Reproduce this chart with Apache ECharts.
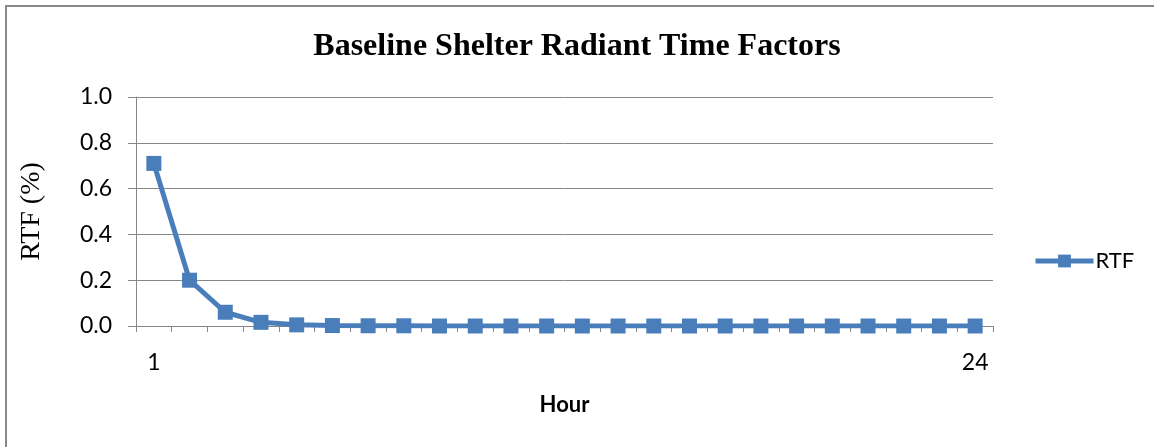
<!DOCTYPE html>
<html>
<head>
<meta charset="utf-8">
<script src="https://cdn.jsdelivr.net/npm/echarts@6/dist/echarts.min.js"></script>
<style>
  html, body { margin: 0; padding: 0; background: #fff; }
  #chart { width: 1154px; height: 447px; }
</style>
</head>
<body>
<div id="chart"></div>
<script>
// hours 1..24
const hours = ['1', '2', '3', '4', '5', '6', '7', '8', '9', '10', '11', '12',
  '13', '14', '15', '16', '17', '18', '19', '20', '21', '22', '23', '24']
// radiant time factors
const rtf = [0.71, 0.20, 0.06, 0.016, 0.005, 0.002, 0.001, 0.001, 0, 0, 0, 0,
  0, 0, 0, 0, 0, 0, 0, 0, 0, 0, 0, 0]
const yTicks = [0, 0.2, 0.4, 0.6, 0.8, 1.0]

const chart = echarts.init(document.getElementById('chart'))
const gridColor = '#878787'
const lineColor = '#4a7ebb'
const sans = 'Lato, "Open Sans", sans-serif'
const serif = '"Liberation Serif", "DejaVu Serif", serif'

chart.setOption({
  animation: false,
  backgroundColor: '#fff',
  title: {
    text: 'Baseline Shelter Radiant Time Factors',
    left: 'center',
    top: 26,
    textStyle: { fontFamily: serif, fontWeight: 'bold', fontSize: 32, color: '#000' }
  },
  graphic: [
    // outer chart border (only left and top edges show)
    {
      type: 'rect',
      shape: { x: 6, y: 6, width: 1300, height: 600 },
      style: { fill: null, stroke: '#888', lineWidth: 2 },
      silent: true
    }
  ],
  legend: {
    left: 1028,
    top: 245,
    itemWidth: 58,
    itemHeight: 16,
    itemGap: 4,
    lineStyle: { width: 5 },
    textStyle: { fontFamily: sans, fontSize: 22, color: '#000', padding: [0, 0, 0, -3] },
    data: ['RTF']
  },
  grid: { left: 136, right: 161, top: 97, bottom: 121 },
  xAxis: {
    type: 'category',
    data: hours,
    boundaryGap: true,
    name: 'Hour',
    nameLocation: 'middle',
    nameGap: 68,
    nameTextStyle: { fontFamily: sans, fontWeight: 'bold', fontSize: 22, color: '#000' },
    axisLine: { lineStyle: { color: gridColor, width: 1 } },
    axisTick: { show: true, length: 6, lineStyle: { color: gridColor }, interval: 0 },
    axisLabel: {
      interval: (i) => i === 0 || i === hours.length - 1,
      margin: 25,
      fontFamily: sans,
      fontSize: 23,
      color: '#000'
    },
    splitLine: { show: false }
  },
  yAxis: {
    type: 'value',
    min: 0,
    max: 1,
    interval: 0.2,
    name: 'RTF (%)',
    nameLocation: 'middle',
    nameGap: 90,
    nameTextStyle: { fontFamily: serif, fontSize: 28, color: '#000' },
    axisLine: { show: true, lineStyle: { color: gridColor, width: 1 } },
    axisTick: { show: true, length: 8, lineStyle: { color: gridColor } },
    axisLabel: {
      margin: 24,
      fontFamily: sans,
      fontSize: 23,
      color: '#000',
      formatter: (v) => yTicks.some(t => Math.abs(t - v) < 1e-9) ? v.toFixed(1) : ''
    },
    splitLine: { lineStyle: { color: gridColor, width: 1 } }
  },
  series: [
    {
      name: 'RTF',
      type: 'line',
      data: rtf,
      symbol: 'rect',
      symbolSize: 15,
      lineStyle: { color: lineColor, width: 5 },
      itemStyle: { color: lineColor }
    }
  ]
})
</script>
</body>
</html>
